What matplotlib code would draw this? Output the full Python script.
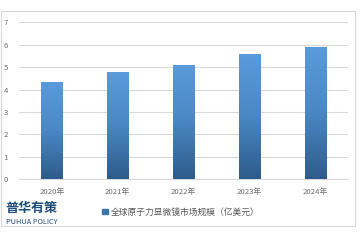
import numpy as np
import matplotlib
matplotlib.use("Agg")
import matplotlib.pyplot as plt
from matplotlib.patches import Rectangle
from matplotlib.colors import LinearSegmentedColormap

plt.rcParams['font.family'] = ['Noto Sans CJK SC', 'DejaVu Sans']

years = ['2020年', '2021年', '2022年', '2023年', '2024年']
market_size = [4.34, 4.80, 5.12, 5.58, 5.89]
series_name = '全球原子力显微镜市场规模（亿美元）'
y_ticks = [0, 1, 2, 3, 4, 5, 6, 7]

W, H = 360, 240
fig = plt.figure(figsize=(3.6, 2.4), dpi=100)
ax = fig.add_axes([19 / W, 1 - 179.3 / H, (348 - 19) / W, (179.3 - 22.4) / H])

grad = LinearSegmentedColormap.from_list('bar', ['#2D5C8A', '#4A87C4', '#5A9BDB'])
x = np.arange(len(years))
bars = ax.bar(x, market_size, width=0.32, color='#4A87C4', zorder=2,
              label=series_name)
ramp = np.linspace(0, 1, 256).reshape(-1, 1)
for b in bars:
    x0, y0 = b.get_x(), b.get_y()
    im = ax.imshow(ramp, cmap=grad, origin='lower', aspect='auto',
                   extent=[x0, x0 + b.get_width(), y0, y0 + b.get_height()],
                   zorder=3)
    im.set_clip_path(b)

ax.set_xlim(-0.5, len(years) - 0.5)
ax.set_ylim(0, 7)
ax.set_yticks(y_ticks)
ax.set_xticks(x)
ax.set_xticklabels(years)
ax.grid(axis='y', color='#D9D9D9', linewidth=0.8, zorder=0)
for s in ax.spines.values():
    s.set_visible(False)
ax.spines['bottom'].set_visible(True)
ax.spines['bottom'].set_color('#D9D9D9')
ax.tick_params(axis='both', length=0, colors='#6E6E6E', labelsize=5.6)
ax.tick_params(axis='y', pad=8)
ax.tick_params(axis='x', pad=6)

# outer frame
fig.patches.append(Rectangle((1 / W, 1 - 226 / H), 354 / W, 215 / H,
                             transform=fig.transFigure, fill=False,
                             edgecolor='#D9D9D9', linewidth=0.8))

# legend
leg = ax.legend(loc='center left', bbox_to_anchor=(98 / W, 1 - 212 / H),
                bbox_transform=fig.transFigure, frameon=False,
                fontsize=6.3, handlelength=0.6, handleheight=0.6,
                handletextpad=0.4, borderpad=0, labelcolor='#595959')
for h in leg.legend_handles:
    h.set_color('#3C74AE')

# brand mark
fig.text(5.5 / W, 1 - 207.5 / H, '普华有策', fontsize=9.4, fontweight='bold',
         color='#1F4E79', va='center', ha='left')
fig.text(5.5 / W, 1 - 222 / H, 'PUHUA POLICY', fontsize=5.3, color='#1F4E79',
         va='center', ha='left')

fig.savefig('out.png', dpi=100, facecolor='white')
